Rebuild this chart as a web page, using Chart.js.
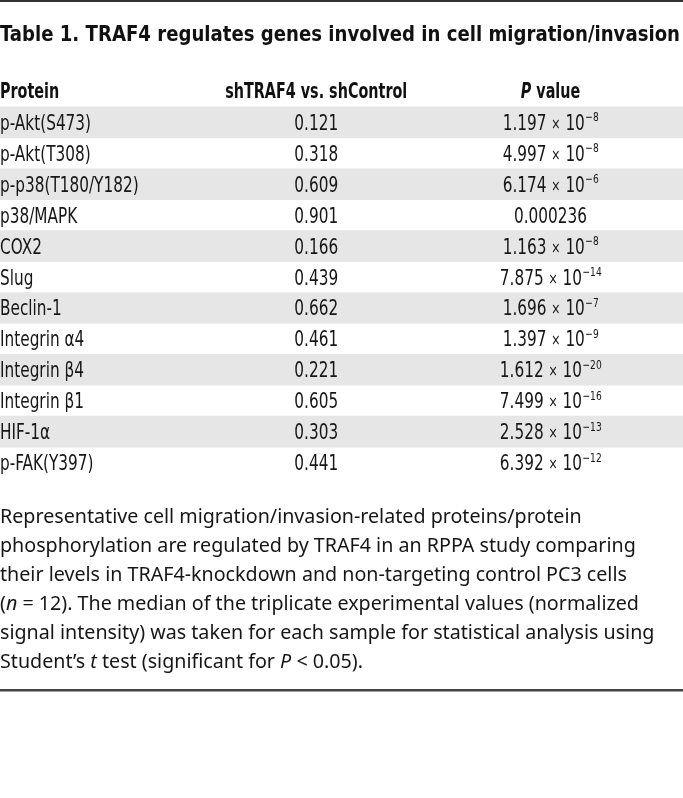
<!DOCTYPE html>
<html>
<head>
<meta charset="utf-8">
<script src="https://cdn.jsdelivr.net/npm/chart.js@4.4.1/dist/chart.umd.min.js"></script>
<style>
  html, body { margin: 0; padding: 0; background: #fff; }
  #tableChart { display: block; }
</style>
</head>
<body>
<canvas id="tableChart" width="683" height="798"></canvas>
<script>
// Table data
var titleText = 'Table 1. TRAF4 regulates genes involved in cell migration/invasion';
var columnHeaders = ['Protein', 'shTRAF4 vs. shControl', 'P value'];
var proteins = ['p-Akt(S473)', 'p-Akt(T308)', 'p-p38(T180/Y182)', 'p38/MAPK', 'COX2', 'Slug',
    'Beclin-1', 'Integrin \u03b14', 'Integrin \u03b24', 'Integrin \u03b21', 'HIF-1\u03b1', 'p-FAK(Y397)'];
var foldChange = [0.121, 0.318, 0.609, 0.901, 0.166, 0.439, 0.662, 0.461, 0.221, 0.605, 0.303, 0.441];
var pValues = [1.197e-8, 4.997e-8, 6.174e-6, 0.000236, 1.163e-8, 7.875e-14,
    1.696e-7, 1.397e-9, 1.612e-20, 7.499e-16, 2.528e-13, 6.392e-12];
// _x_ marks italic text
var captionLines = [
    'Representative cell migration/invasion-related proteins/protein',
    'phosphorylation are regulated by TRAF4 in an RPPA study comparing',
    'their levels in TRAF4-knockdown and non-targeting control PC3 cells',
    '(_n_ = 12). The median of the triplicate experimental values (normalized',
    'signal intensity) was taken for each sample for statistical analysis using',
    'Student\u2019s _t_ test (significant for _P_ < 0.05).'
];

var rowLabels = ['header'].concat(proteins);
// grey band behind every other data row
var stripes = rowLabels.map(function (r, i) { return (i % 2 === 1) ? [0, 1] : null; });

var condensed = '"DejaVu Sans Condensed", "Liberation Sans Narrow", sans-serif';
var captionFont = '"Noto Sans", Lato, sans-serif';
var SX = 0.81;   // extra horizontal squeeze for the table font

function textW(ctx, font, s, sx) {
    ctx.font = font;
    return ctx.measureText(s).width * sx;
}

function fillSq(ctx, font, s, x, y, align, sx) {
    ctx.save();
    ctx.font = font;
    ctx.textAlign = align;
    ctx.translate(x, y);
    ctx.scale(sx, 1);
    ctx.fillText(s, 0, 0);
    ctx.restore();
}

function fmtP(v) {
    if (v >= 1e-4) return { m: String(v), e: null };
    var parts = v.toExponential(3).split('e');
    return { m: parts[0], e: '\u2212' + String(Math.abs(parseInt(parts[1], 10))) };
}

function drawPValue(ctx, v, cx, y) {
    var p = fmtP(v);
    var big = '21px ' + condensed, small = '12.5px ' + condensed, mul = '15px ' + condensed;
    if (!p.e) {
        fillSq(ctx, big, p.m, cx, y, 'center', SX);
        return;
    }
    var w1 = textW(ctx, big, p.m + ' ', SX) + textW(ctx, mul, '\u00d7', SX) + textW(ctx, big, ' 10', SX);
    var w2 = textW(ctx, small, p.e, SX);
    var x = cx - (w1 + w2) / 2;
    fillSq(ctx, big, p.m + ' ', x, y, 'left', SX);
    var xx = x + textW(ctx, big, p.m + ' ', SX);
    fillSq(ctx, mul, '\u00d7', xx, y - 1, 'left', SX);
    xx += textW(ctx, mul, '\u00d7', SX);
    fillSq(ctx, big, ' 10', xx, y, 'left', SX);
    fillSq(ctx, small, p.e, x + w1 + 0.5, y - 8.5, 'left', SX);
}

function drawRich(ctx, line, x, y, size) {
    var segs = line.split('_');
    ctx.textAlign = 'left';
    segs.forEach(function (s, i) {
        ctx.font = (i % 2 === 1 ? 'italic ' : '') + size + 'px ' + captionFont;
        ctx.fillText(s, x, y);
        x += ctx.measureText(s).width;
    });
}

var tableText = {
    id: 'tableText',
    afterDatasetsDraw: function (chart) {
        var ctx = chart.ctx;
        var xs = chart.scales.x, ys = chart.scales.y;
        var col2 = xs.getPixelForValue(0.463);
        var col3 = xs.getPixelForValue(0.806);
        ctx.save();
        ctx.textBaseline = 'alphabetic';
        ctx.fillStyle = '#333';
        ctx.fillRect(0, 0, 683, 2);

        // title, squeezed to the full width
        ctx.fillStyle = '#111';
        var tf = 'bold 22px ' + condensed;
        var tsx = 680 / textW(ctx, tf, titleText, 1);
        fillSq(ctx, tf, titleText, 0, 41, 'left', tsx);

        // header row
        var hy = ys.getPixelForValue(0) + 7;
        var hf = 'bold 21px ' + condensed, hfi = 'italic bold 21px ' + condensed;
        var hsx = 0.76;
        fillSq(ctx, hf, columnHeaders[0], 0, hy, 'left', hsx);
        fillSq(ctx, hf, columnHeaders[1], col2, hy, 'center', hsx);
        var pw = textW(ctx, hfi, 'P', hsx), vw = textW(ctx, hf, ' value', hsx);
        fillSq(ctx, hfi, 'P', col3 - (pw + vw) / 2, hy, 'left', hsx);
        fillSq(ctx, hf, ' value', col3 - (pw + vw) / 2 + pw, hy, 'left', hsx);

        // rows
        ctx.fillStyle = '#161616';
        var rf = '21px ' + condensed;
        proteins.forEach(function (name, i) {
            var y = ys.getPixelForValue(i + 1) + 7.5;
            fillSq(ctx, rf, name, 0, y, 'left', SX);
            fillSq(ctx, rf, foldChange[i].toFixed(3), col2, y, 'center', SX);
            drawPValue(ctx, pValues[i], col3, y);
        });

        // caption, sized so the longest line spans like the original
        ctx.font = '20px ' + captionFont;
        var cs = 20 * 655 / ctx.measureText(captionLines[4]).width;
        captionLines.forEach(function (line, i) {
            drawRich(ctx, line, 0, 523 + i * 29, cs);
        });

        ctx.fillStyle = '#444';
        ctx.fillRect(0, 689, 683, 2.5);
        ctx.restore();
    }
};

var tableChart = new Chart(document.getElementById('tableChart').getContext('2d'), {
    type: 'bar',
    data: {
        labels: rowLabels,
        datasets: [{
            data: stripes,
            backgroundColor: '#e6e6e6',
            borderWidth: 0,
            barPercentage: 1,
            categoryPercentage: 1
        }]
    },
    options: {
        indexAxis: 'y',
        responsive: false,
        animation: false,
        layout: { padding: { top: 76, bottom: 320, left: 0, right: 0 } },
        scales: {
            x: { display: false, min: 0, max: 1 },
            y: { display: false, offset: true }
        },
        plugins: {
            legend: { display: false },
            tooltip: { enabled: false },
            title: { display: false }
        }
    },
    plugins: [tableText]
});
</script>
</body>
</html>
